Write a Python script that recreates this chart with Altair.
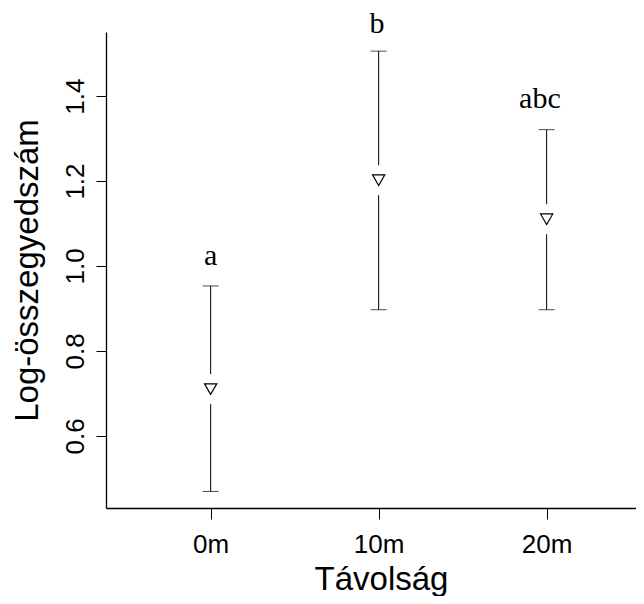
import altair as alt
import pandas as pd

# data
distances = [0, 10, 20]
means = [0.710, 1.202, 1.110]
lowers = [0.469, 0.897, 0.897]
uppers = [0.953, 1.506, 1.321]
letters = ["a", "b", "abc"]
letter_x = [0, 9.9, 19.6]
letter_y = [1.003, 1.548, 1.372]

df = pd.DataFrame({"d": distances, "m": means, "lo": lowers, "hi": uppers})
lab = pd.DataFrame({"x": letter_x, "y": letter_y, "t": letters})

xscale = alt.Scale(domain=[-6.23, 25.32], nice=False, zero=False)
yscale = alt.Scale(domain=[0.43, 1.551], nice=False, zero=False)

xaxis = alt.Axis(values=[0, 10, 20], labelExpr="datum.value + 'm'", title="Távolság",
                 tickSize=11, labelPadding=33, labelBaseline="alphabetic",
                 labelFontSize=26, titleFontSize=33, titleX=275, titleY=81,
                 titleBaseline="alphabetic", titleAnchor="start", titleAlign="center",
                 grid=False, domainColor="black", tickColor="black",
                 labelColor="black", titleColor="black", titleFontWeight="normal",
                 labelFont="Liberation Sans", titleFont="Liberation Sans")
yaxis = alt.Axis(values=[0.6, 0.8, 1.0, 1.2, 1.4], format=".1f", title="Log-összegyedszám",
                 tickSize=10, labelPadding=13, labelAngle=270, labelAlign="center",
                 labelBaseline="alphabetic", labelFontSize=26, titleFontSize=33,
                 titleAngle=270, titleX=-69, titleY=238, titleAlign="center",
                 titleBaseline="alphabetic", titleAnchor="start",
                 grid=False, domainColor="black", tickColor="black",
                 labelColor="black", titleColor="black", titleFontWeight="normal",
                 labelFont="Liberation Sans", titleFont="Liberation Sans")

base = alt.Chart(df)

upper_seg = base.mark_rule(color="black", strokeWidth=1, yOffset=-15).encode(
    x=alt.X("d:Q", scale=xscale, axis=xaxis),
    y=alt.Y("m:Q", scale=yscale, axis=yaxis),
    y2="hi:Q",
)
lower_seg = base.mark_rule(color="black", strokeWidth=1, y2Offset=15).encode(
    x=alt.X("d:Q", scale=xscale),
    y=alt.Y("lo:Q", scale=yscale),
    y2="m:Q",
)
cap_hi = base.mark_tick(color="black", thickness=1, size=16, orient="horizontal").encode(
    x=alt.X("d:Q", scale=xscale), y=alt.Y("hi:Q", scale=yscale))
cap_lo = base.mark_tick(color="black", thickness=1, size=16, orient="horizontal").encode(
    x=alt.X("d:Q", scale=xscale), y=alt.Y("lo:Q", scale=yscale))
pts = base.mark_point(shape="triangle-down", filled=False, color="black",
                      strokeWidth=1.2, size=150, opacity=1).encode(
    x=alt.X("d:Q", scale=xscale), y=alt.Y("m:Q", scale=yscale))
txt = alt.Chart(lab).mark_text(font="Liberation Serif", fontSize=30, color="black",
                               baseline="alphabetic", align="center").encode(
    x=alt.X("x:Q", scale=xscale), y=alt.Y("y:Q", scale=yscale), text="t:N")

chart = alt.layer(upper_seg, lower_seg, cap_hi, cap_lo, pts, txt).properties(
    width=530, height=476,
    padding={"left": 98, "top": 24, "right": 0, "bottom": 88},
    autosize=alt.AutoSizeParams(type="none"),
    background="white",
).configure_view(stroke=None).configure_axis(domainWidth=1.3, tickWidth=1)

chart.save("out.html", embed_options={"renderer": "svg", "actions": False})
